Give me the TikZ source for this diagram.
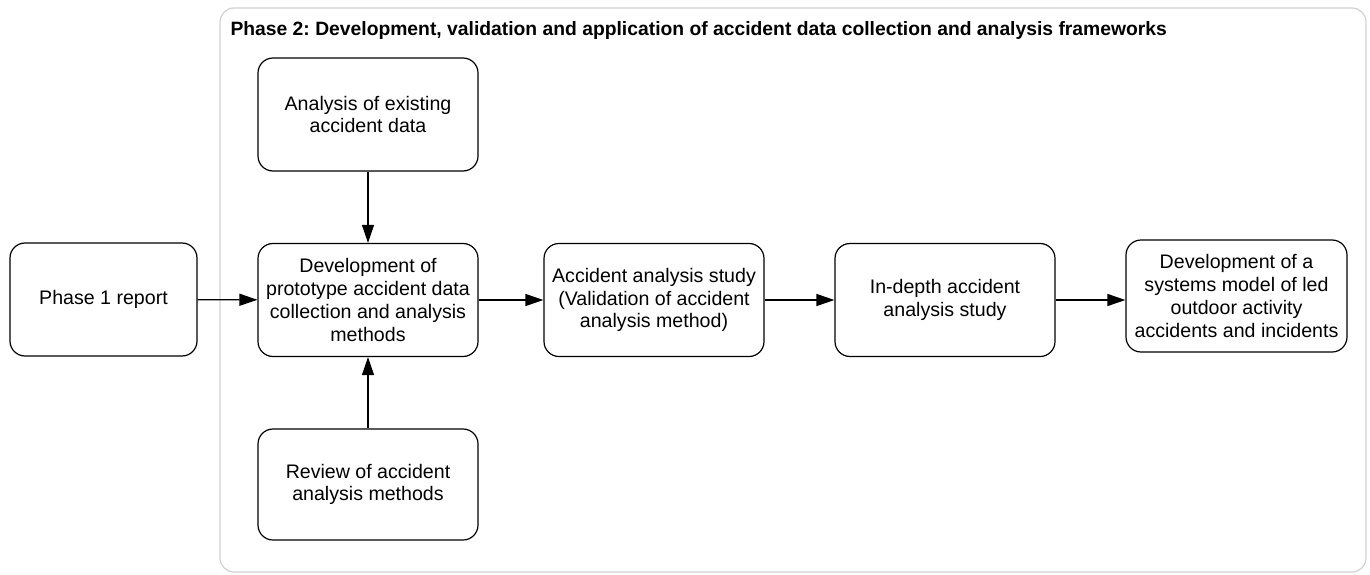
\documentclass[tikz,border=0pt]{standalone}
\usepackage{fontspec}
\setmainfont{Liberation Sans}
\usetikzlibrary{arrows.meta}
\frenchspacing

\begin{document}
\begin{tikzpicture}[x=1pt,y=-1pt]
\tikzstyle{stepbox}=[draw,rounded corners=15pt,line width=1.2pt,minimum width=220pt,minimum height=113pt,inner sep=2pt,align=center,font=\fontsize{19.6}{22.7}\selectfont]
\tikzstyle{edge} = [draw,line width=1.2pt,-{Triangle[length=18pt,width=12pt]}]
\tikzstyle{phase} = [draw=black!18,line width=1.2pt,rounded corners=14pt]
\useasboundingbox (0,0) rectangle (1370,575);
\path[phase] (220,8) rectangle (1366,572);
\node[anchor=west,font=\fontsize{19.3}{22}\selectfont\bfseries] (title) at (227,31) {Phase 2: Development, validation and application of accident data collection and analysis frameworks};
\node[stepbox,minimum width=187pt] (p1) at (103.5,299.5) {Phase 1 report};
\node[stepbox] (ana) at (368,114.5) {Analysis of existing\\accident data};
\node[stepbox] (dev) at (368,300) {Development of\\prototype accident data\\collection and analysis\\methods};
\node[stepbox,minimum height=111pt] (rev) at (368,484.5) {Review of accident\\analysis methods};
\node[stepbox] (study) at (654,300) {Accident analysis study\\(Validation of accident\\analysis method)};
\node[stepbox] (indepth) at (945,300) {In-depth accident\\analysis study};
\node[stepbox,minimum width=221pt,minimum height=112pt] (sys) at (1236.5,296) {Development of a\\systems model of led\\outdoor activity\\accidents and incidents};
\path[edge] (p1) -- (dev);
\path[edge] (ana) -- (dev);
\path[edge] (rev) -- (dev);
\path[edge] (dev) -- (study);
\path[edge] (study) -- (indepth);
\path[edge] (indepth.east) -- (indepth.east -| sys.west);
\end{tikzpicture}
\end{document}
